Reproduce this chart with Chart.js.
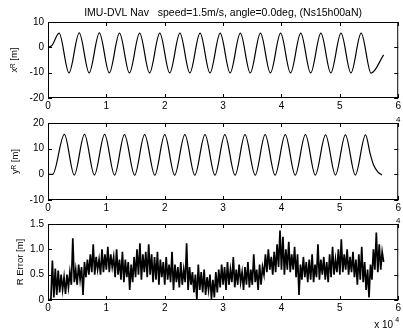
<!DOCTYPE html>
<html><head><meta charset="utf-8">
<script src="https://cdn.jsdelivr.net/npm/chart.js@4.4.1/dist/chart.umd.min.js"></script>
<style>
html,body{margin:0;padding:0;background:#fff;width:403px;height:336px;overflow:hidden}
canvas{position:absolute;left:0}
</style></head><body>
<canvas id="c1" width="403" height="111" style="top:0px"></canvas>
<canvas id="c2" width="403" height="100" style="top:111px"></canvas>
<canvas id="c3" width="403" height="125" style="top:211px"></canvas>
<script>
// ---- data (x in units of 10^4) ----
const titleText = "IMU-DVL Nav   speed=1.5m/s, angle=0.0deg, (Ns15h00aN)";
const yLabels = ["x\u1D3F [m]", "y\u1D3F [m]", "R Error [m]"];
const xTickValues = [0, 1, 2, 3, 4, 5, 6];

const xrTime = [0, 0.07, 0.19, 0.36, 0.535, 0.705, 0.88, 1.05, 1.225, 1.395, 1.57, 1.74, 1.915, 2.085, 2.26, 2.43, 2.605, 2.775, 2.95, 3.12, 3.295, 3.465, 3.64, 3.81, 3.985, 4.155, 4.33, 4.50, 4.675, 4.845, 5.02, 5.19, 5.365, 5.535, 5.75];
const xrVal  = [0, 0.8, 5.6, -10.1, 5.7, -10.1, 5.7, -10.1, 5.6, -10.1, 5.6, -10.1, 5.6, -10.1, 5.6, -10.1, 5.6, -10.1, 5.6, -10.1, 5.6, -10.1, 5.6, -10.1, 5.6, -10.1, 5.6, -10.1, 5.6, -10.1, 5.6, -10.1, 5.6, -10.2, -3];

const yrTime = [0, 0.08, 0.28, 0.45, 0.625, 0.795, 0.97, 1.14, 1.31, 1.485, 1.655, 1.83, 2.0, 2.17, 2.345, 2.515, 2.69, 2.86, 3.03, 3.205, 3.375, 3.55, 3.72, 3.89, 4.065, 4.235, 4.41, 4.58, 4.755, 4.925, 5.095, 5.265, 5.44, 5.52, 5.58, 5.65, 5.72];
const yrVal  = [0, 0, 15.6, -0.3, 15.6, -0.3, 15.6, -0.3, 15.5, -0.3, 15.5, -0.3, 15.5, -0.3, 15.5, -0.3, 15.5, -0.3, 15.5, -0.3, 15.5, -0.3, 15.5, -0.3, 15.5, -0.3, 15.5, -0.3, 15.4, -0.3, 15.4, -0.3, 15.4, 8, 3.5, 1, -0.3];

const errStep = 0.025; // sample spacing (10^4 s)
const errVal = [
 0, 0, 0.02, 0.78, 0.05, 0.62, 0.1, 0.58, 0.15, 0.5,
 0.2, 0.45, 0.12, 0.5, 0.25, 0.55, 0.3, 1.22, 0.35, 0.6,
 0.3, 0.7, 0.4, 0.65, 0.1, 0.75, 0.45, 0.8, 0.5, 0.9,
 0.55, 1.1, 0.5, 0.85, 0.6, 0.8, 0.5, 1.0, 0.55, 0.9,
 0.6, 1.05, 0.55, 0.9, 0.65, 0.85, 0.45, 1.0, 0.5, 0.8,
 0.4, 0.95, 0.35, 0.8, 0.45, 0.75, 0.2, 0.7, 0.35, 0.85,
 0.45, 1.0, 0.5, 1.12, 0.4, 0.9, 0.55, 0.95, 0.45, 1.1,
 0.5, 0.9, 0.35, 0.85, 0.4, 0.95, 0.3, 0.8, 0.45, 0.75,
 0.3, 0.85, 0.4, 0.7, 0.35, 0.95, 0.2, 0.7, 0.35, 0.65,
 0.25, 0.75, 0.3, 0.6, 0.35, 1.12, 0.2, 0.65, 0.3, 0.55,
 0.15, 0.5, 0.0, 0.7, 0.2, 0.55, 0.15, 0.6, 0.1, 0.45,
 0.2, 0.5, 0.02, 0.4, 0.05, 0.55, 0.15, 0.6, 0.25, 0.7,
 0.3, 0.65, 0.2, 0.75, 0.3, 0.6, 0.35, 0.85, 0.25, 0.6,
 0.3, 0.7, 0.35, 0.55, 0.2, 0.65, 0.3, 0.75, 0.25, 0.6,
 0.3, 0.9, 0.35, 0.6, 0.2, 0.7, 0.3, 0.65, 0.5, 0.9,
 0.55, 1.0, 0.6, 0.85, 0.5, 0.95, 0.55, 1.1, 0.65, 1.37,
 0.6, 1.25, 0.5, 1.0, 0.6, 1.15, 0.55, 0.9, 0.6, 1.05,
 0.45, 0.9, 0.1, 0.7, 0.4, 0.85, 0.45, 0.75, 0.35, 0.8,
 0.4, 0.9, 0.35, 0.7, 0.45, 1.1, 0.4, 0.8, 0.5, 0.85,
 0.4, 0.75, 0.35, 0.9, 0.45, 1.05, 0.5, 0.8, 0.55, 1.0,
 0.5, 1.2, 0.55, 0.9, 0.6, 1.0, 0.5, 0.85, 0.55, 0.95,
 0.45, 0.8, 0.3, 0.9, 0.4, 1.05, 0.35, 0.75, 0.2, 0.6,
 0.05, 0.7, 0.4, 1.0, 0.6, 1.33, 0.55, 1.1, 0.6, 0.95,
 0.75
];

// ---- drawing ----
const FONT = '"Liberation Sans", Arial, sans-serif';
Chart.defaults.font.family = FONT;
Chart.defaults.color = '#000';

const boxPlugin = {
  id: 'matlabBox',
  afterDatasetsDraw(chart, args, opts) {
    const {ctx, chartArea: a, scales: {x, y}} = chart;
    ctx.save();
    ctx.strokeStyle = '#000';
    ctx.lineWidth = 1;
    ctx.strokeRect(a.left + 0.5, a.top + 0.5, a.right - a.left - 1, a.bottom - a.top - 1);
    const L = 4;
    ctx.beginPath();
    x.ticks.forEach(t => {
      const p = Math.round(x.getPixelForValue(t.value)) + 0.5;
      ctx.moveTo(p, a.bottom); ctx.lineTo(p, a.bottom - L);
      ctx.moveTo(p, a.top); ctx.lineTo(p, a.top + L);
    });
    y.ticks.forEach(t => {
      const p = Math.round(y.getPixelForValue(t.value)) + 0.5;
      ctx.moveTo(a.left, p); ctx.lineTo(a.left + L, p);
      ctx.moveTo(a.right, p); ctx.lineTo(a.right - L, p);
    });
    ctx.stroke();
    ctx.fillStyle = '#000';
    if (opts.sup) {
      ctx.font = '8px ' + FONT;
      ctx.textAlign = 'center';
      ctx.textBaseline = 'bottom';
      ctx.fillText('4', a.right, a.top + 1);
    }
    if (opts.exp) {
      ctx.font = '10px ' + FONT;
      ctx.textAlign = 'left';
      ctx.textBaseline = 'alphabetic';
      ctx.fillText('x 10', a.right - 24, a.bottom + 28);
      ctx.font = '7px ' + FONT;
      ctx.fillText('4', a.right - 3, a.bottom + 22);
    }
    ctx.restore();
  }
};

function makeChart(id, data, yMin, yMax, yStep, yLabel, opts) {
  return new Chart(document.getElementById(id), {
    type: 'line',
    data: { datasets: [{
      data: data,
      borderColor: '#000',
      borderWidth: opts.lw,
      pointRadius: 0,
      fill: false,
      cubicInterpolationMode: opts.smooth ? 'monotone' : 'default',
      tension: 0
    }]},
    options: {
      responsive: false,
      animation: false,
      devicePixelRatio: 1,
      layout: { padding: { left: 0, right: 4, top: opts.padTop, bottom: 0 } },
      plugins: {
        legend: { display: false },
        tooltip: { enabled: false },
        title: opts.title ? {
          display: true, text: titleText, fullSize: false,
          font: { size: 10.5, weight: 'normal', lineHeight: 1.2 },
          padding: { top: 7, bottom: 2.4 }, color: '#000'
        } : { display: false },
        matlabBox: { sup: opts.sup, exp: opts.exp }
      },
      scales: {
        x: {
          type: 'linear', min: 0, max: 6,
          afterBuildTicks: s => { s.ticks = xTickValues.map(v => ({ value: v })); },
          ticks: { padding: 2, font: { size: 10 }, maxRotation: 0, color: '#000' },
          grid: { display: false, drawTicks: false },
          border: { display: false },
          afterFit: s => { s.height = opts.xh; }
        },
        y: {
          min: yMin, max: yMax,
          ticks: { stepSize: yStep, padding: 4, font: { size: 10 }, color: '#000' },
          grid: { display: false, drawTicks: false },
          border: { display: false },
          title: { display: true, text: yLabel, font: { size: 9.5 }, padding: { top: opts.ytp, bottom: 0 }, color: '#000' },
          afterFit: s => { s.width = 48; }
        }
      }
    },
    plugins: [boxPlugin]
  });
}

const xrData = xrTime.map((t, i) => ({ x: t, y: xrVal[i] }));
const yrData = yrTime.map((t, i) => ({ x: t, y: yrVal[i] }));
const errData = errVal.map((v, i) => ({ x: i * errStep, y: v }));

makeChart('c1', xrData, -20, 10, 10, yLabels[0], { lw: 1.2, smooth: true, padTop: 0, title: true, xh: 13, ytp: 9 });
makeChart('c2', yrData, -10, 20, 10, yLabels[1], { lw: 1.2, smooth: true, padTop: 12, title: false, xh: 11, ytp: 10, sup: true });
makeChart('c3', errData, 0, 1.5, 0.5, yLabels[2], { lw: 1.7, smooth: false, padTop: 13, title: false, xh: 36, ytp: 15, sup: true, exp: true });
</script>
</body></html>
